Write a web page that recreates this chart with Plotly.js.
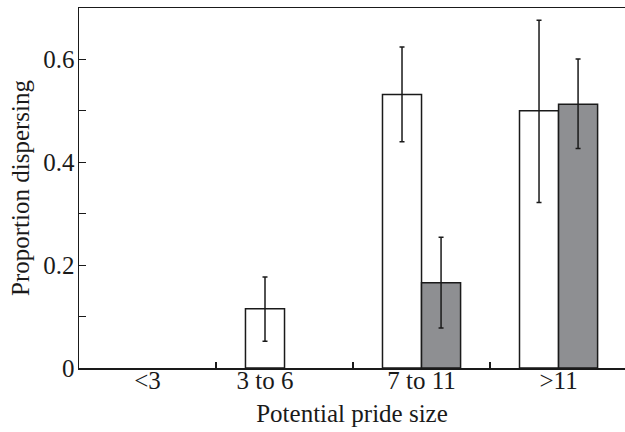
<!DOCTYPE html>
<html>
<head>
<meta charset="utf-8">
<script src="https://cdn.plot.ly/plotly-3.0.1.min.js"></script>
<style>html,body{margin:0;padding:0;background:#fff;}#chart{width:625px;height:432px;}</style>
</head>
<body>
<div id="chart"></div>
<script>
var categories = ['<3', '3 to 6', '7 to 11', '>11'];
var openValues = [0, 0.115, 0.532, 0.5];
var openErrPlus = [null, 0.062, 0.092, 0.176];
var openErrMinus = [null, 0.063, 0.092, 0.178];
var greyValues = [0, 0, 0.166, 0.513];
var greyErrPlus = [null, null, 0.088, 0.088];
var greyErrMinus = [null, null, 0.088, 0.086];
var labelPositions = [0, 0.8575, 2, 3];
var yTickVals = [0, 0.1, 0.2, 0.3, 0.4, 0.5, 0.6];
var yTickText = ['0', '', '0.2', '', '0.4', '', '0.6'];

var font = {family: '"Liberation Serif", "Times New Roman", serif', size: 25, color: '#1a1a1a'};

function outlineWidths(vals) { return vals.map(function (v) { return v > 0 ? 1.5 : 0; }); }
function errs(arr) { return arr.map(function (v) { return v === null ? NaN : v; }); }

var errStyle = {type: 'data', symmetric: false, color: '#1a1a1a', thickness: 1.5, width: 2.5};

var traces = [
  {type: 'bar', x: categories, y: openValues,
   marker: {color: '#ffffff', line: {color: '#1a1a1a', width: outlineWidths(openValues)}},
   error_y: Object.assign({array: errs(openErrPlus), arrayminus: errs(openErrMinus)}, errStyle),
   hoverinfo: 'none', showlegend: false},
  {type: 'bar', x: categories, y: greyValues,
   marker: {color: '#8e8f92', line: {color: '#1a1a1a', width: outlineWidths(greyValues)}},
   error_y: Object.assign({array: errs(greyErrPlus), arrayminus: errs(greyErrMinus)}, errStyle),
   hoverinfo: 'none', showlegend: false},
  {type: 'scatter', x: labelPositions, y: [null, null, null, null], xaxis: 'x2', yaxis: 'y',
   mode: 'markers', hoverinfo: 'none', showlegend: false}
];

var layout = {
  width: 625, height: 432,
  margin: {l: 79, r: 0, t: 8, b: 64},
  paper_bgcolor: '#ffffff', plot_bgcolor: '#ffffff',
  font: font,
  barmode: 'group', bargap: 0.43, bargroupgap: 0,
  showlegend: false,
  xaxis: {
    type: 'category', categoryorder: 'array', categoryarray: categories,
    range: [-0.5, 3.485],
    tickson: 'boundaries', ticks: 'inside', ticklen: 6, tickwidth: 1.5, tickcolor: '#1a1a1a',
    showticklabels: false,
    showline: true, linecolor: '#1a1a1a', linewidth: 1.5, mirror: true,
    showgrid: false, zeroline: false, fixedrange: true
  },
  xaxis2: {
    overlaying: 'x', anchor: 'y', side: 'bottom',
    range: [-0.5, 3.485],
    tickmode: 'array', tickvals: labelPositions, ticktext: categories,
    ticks: '', showline: false, showgrid: false, zeroline: false,
    tickfont: font, ticklabelstandoff: -5,
    title: {text: 'Potential pride size', font: font, standoff: 11}
  },
  yaxis: {
    range: [0, 0.7],
    tickmode: 'array', tickvals: yTickVals, ticktext: yTickText,
    ticks: 'inside', ticklen: 7, tickwidth: 1.2, tickcolor: '#1a1a1a',
    tickfont: font, ticklabelstandoff: -2,
    showline: true, linecolor: '#1a1a1a', linewidth: 1.5,
    showgrid: false, zeroline: false,
    title: {text: 'Proportion dispersing', font: font, standoff: 6}
  }
};

Plotly.newPlot('chart', traces, layout, {displayModeBar: false, staticPlot: true});
</script>
</body>
</html>
